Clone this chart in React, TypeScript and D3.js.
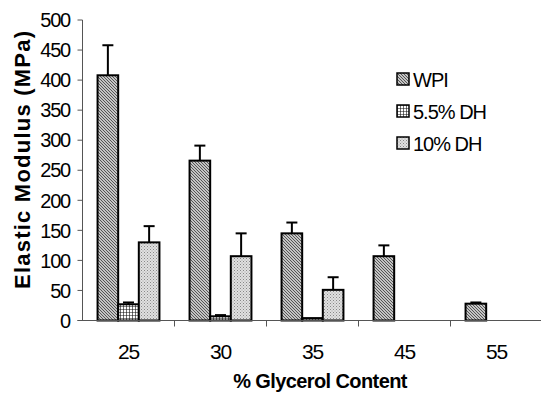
import React from "react";
import * as d3 from "d3";

const categories = ["25", "30", "35", "45", "55"];
const seriesNames = ["WPI", "5.5% DH", "10% DH"];
const wpiValues = [408, 266, 145, 107, 28];
const wpiErrors = [50, 25, 18, 18, 2];
const dh55Values = [27, 7, 4, null, null];
const dh55Errors = [3, 2, 0, null, null];
const dh10Values = [130, 107, 51, null, null];
const dh10Errors = [27, 38, 21, null, null];
const yTicks = [0, 50, 100, 150, 200, 250, 300, 350, 400, 450, 500];

const seriesValues = [wpiValues, dh55Values, dh10Values];
const seriesErrors = [wpiErrors, dh55Errors, dh10Errors];
const patternIds = ["pWPI", "pDH55", "pDH10"];

export default function App() {
  const W = 541, H = 402;
  const axisX = 82.5, axisY = 320.5;
  const x = d3.scaleBand<string>().domain(categories).range([axisX, axisX + 92 * 5]).paddingInner(0).paddingOuter(0);
  const inner = d3.scaleBand<string>().domain(seriesNames).range([0, x.bandwidth()]).paddingInner(0).paddingOuter(0.73);
  const y = d3.scaleLinear().domain([0, 500]).range([axisY, 20]);
  const font = "'Liberation Sans', Arial, sans-serif";

  return (
    <svg width={W} height={H} style={{ position: "absolute", left: 0, top: 0, background: "#fff" }}>
      <defs>
        <pattern id="pWPI" width="3" height="3" patternUnits="userSpaceOnUse">
          <rect width="3" height="3" fill="#c4c4c4" />
          <path d="M-1,-1 L4,4 M-1,2 L1,4 M2,-1 L4,1" stroke="#555" strokeWidth="1" />
        </pattern>
        <pattern id="pDH55" width="3" height="3" patternUnits="userSpaceOnUse">
          <rect width="3" height="3" fill="#ffffff" />
          <path d="M0,0 L3,0 M0,0 L0,3" stroke="#111" strokeWidth="1.2" />
        </pattern>
        <pattern id="pDH10" width="3" height="3" patternUnits="userSpaceOnUse">
          <rect width="3" height="3" fill="#e0e0e0" />
          <rect x="0" y="0" width="1" height="1" fill="#888" />
          <rect x="1.5" y="1.5" width="1" height="1" fill="#a0a0a0" />
        </pattern>
      </defs>

      {/* y axis */}
      <line x1={axisX} x2={axisX} y1={y(500)} y2={axisY} stroke="#555" strokeWidth={1} />
      {yTicks.map((t) => (
        <g key={t}>
          <line x1={axisX - 5} x2={axisX} y1={y(t)} y2={y(t)} stroke="#555" strokeWidth={1} />
          <text x={70} y={y(t)} dy="0.36em" textAnchor="end" fontFamily={font} fontSize={20} letterSpacing={-1.2} fill="#000">
            {t}
          </text>
        </g>
      ))}

      {/* bars */}
      {seriesNames.map((s, si) =>
        categories.map((c, ci) => {
          const v = seriesValues[si][ci];
          if (v == null) return null;
          const e = seriesErrors[si][ci] as number;
          const bx = (x(c) as number) + (inner(s) as number);
          const bw = inner.bandwidth();
          const cx = bx + bw / 2;
          return (
            <g key={s + c}>
              {e > 0 && (
                <g stroke="#000" strokeWidth={2}>
                  <line x1={cx} x2={cx} y1={y(v)} y2={y(v + e)} />
                  <line x1={cx - 5.5} x2={cx + 5.5} y1={y(v + e)} y2={y(v + e)} />
                </g>
              )}
              <rect x={bx} y={y(v)} width={bw} height={axisY - y(v)} fill={`url(#${patternIds[si]})`} stroke="#000" strokeWidth={2} />
            </g>
          );
        })
      )}

      {/* x axis */}
      <line x1={axisX - 5} x2={W} y1={axisY} y2={axisY} stroke="#555" strokeWidth={1} />
      {categories.map((c, ci) =>
        ci > 0 ? (
          <line key={"t" + c} x1={x(c) as number} x2={x(c) as number} y1={axisY} y2={axisY + 6} stroke="#555" strokeWidth={1} />
        ) : null
      )}
      {categories.map((c) => (
        <text key={"l" + c} x={(x(c) as number) + x.bandwidth() / 2} y={359} textAnchor="middle" fontFamily={font} fontSize={21} letterSpacing={-1.3} fill="#000">
          {c}
        </text>
      ))}

      {/* axis titles */}
      <text x={320} y={388} textAnchor="middle" fontFamily={font} fontSize={20} fontWeight="bold" letterSpacing={-0.6} fill="#000">
        % Glycerol Content
      </text>
      <text transform="translate(30,160) rotate(-90)" textAnchor="middle" fontFamily={font} fontSize={22} fontWeight="bold" textLength={258} lengthAdjust="spacing" fill="#000">
        Elastic Modulus (MPa)
      </text>

      {/* legend */}
      {seriesNames.map((s, si) => (
        <g key={"lg" + s} transform={`translate(397,${73 + si * 32})`}>
          <rect x={0} y={0} width={12} height={12} fill={`url(#${patternIds[si]})`} stroke="#000" strokeWidth={1.5} />
          <text x={16} y={6.5} dy="0.36em" fontFamily={font} fontSize={20} letterSpacing={-1} fill="#000">
            {s}
          </text>
        </g>
      ))}
    </svg>
  );
}
